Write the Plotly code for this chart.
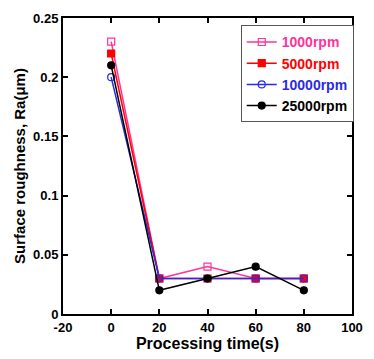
import plotly.graph_objects as go

time_s = [0, 20, 40, 60, 80]
series_names = ["1000rpm", "5000rpm", "10000rpm", "25000rpm"]
ra_1000 = [0.23, 0.03, 0.04, 0.03, 0.03]
ra_5000 = [0.22, 0.03, 0.03, 0.03, 0.03]
ra_10000 = [0.20, 0.03, 0.03, 0.03, 0.03]
ra_25000 = [0.21, 0.02, 0.03, 0.04, 0.02]

colors = ["#FF3399", "#FF0000", "#2A2AE6", "#000000"]
symbols = ["square-open", "square", "circle-open", "circle"]
values = [ra_1000, ra_5000, ra_10000, ra_25000]

fig = go.Figure()
for name, vals, c, s in zip(series_names, values, colors, symbols):
    fig.add_trace(go.Scatter(
        x=time_s, y=vals, mode="lines+markers",
        name=f"<span style='color:{c}'><b>{name}</b></span>",
        line=dict(color=c, width=1.5),
        marker=dict(symbol=s, size=7, color=c, line=dict(color=c, width=1.2)),
    ))

axis_common = dict(
    showline=True, linewidth=2, linecolor="black", mirror="allticks",
    ticks="inside", ticklen=5, tickwidth=1.5, tickcolor="black",
    showgrid=False, zeroline=False,
    tickfont=dict(family="Liberation Sans, Arial", size=13, color="black"),
)

fig.update_layout(
    width=374, height=359,
    margin=dict(l=63, r=11, t=15, b=45),
    paper_bgcolor="white", plot_bgcolor="white",
    font=dict(family="Liberation Sans, Arial", color="black"),
    xaxis=dict(range=[-20, 100], tickvals=[-20, 0, 20, 40, 60, 80, 100],
               ticktext=["<b>-20</b>", "<b>0</b>", "<b>20</b>", "<b>40</b>", "<b>60</b>", "<b>80</b>", "<b>100</b>"],
               title=dict(text="<b>Processing time(s)</b>", font=dict(size=16), standoff=2),
               **axis_common),
    yaxis=dict(range=[0, 0.25], tickvals=[0, 0.05, 0.1, 0.15, 0.2, 0.25],
               ticktext=["<b>0</b>", "<b>0.05</b>", "<b>0.1</b>", "<b>0.15</b>", "<b>0.2</b>", "<b>0.25</b>"],
               title=dict(text="<b>Surface roughness, Ra(μm)</b>", font=dict(size=15), standoff=4),
               **axis_common),
    legend=dict(x=0.615, y=0.975, xanchor="left", yanchor="top",
                bordercolor="#555555", borderwidth=1, bgcolor="white",
                font=dict(size=14), tracegroupgap=0, itemwidth=30),
    showlegend=True,
)

fig.write_html("out.html")
